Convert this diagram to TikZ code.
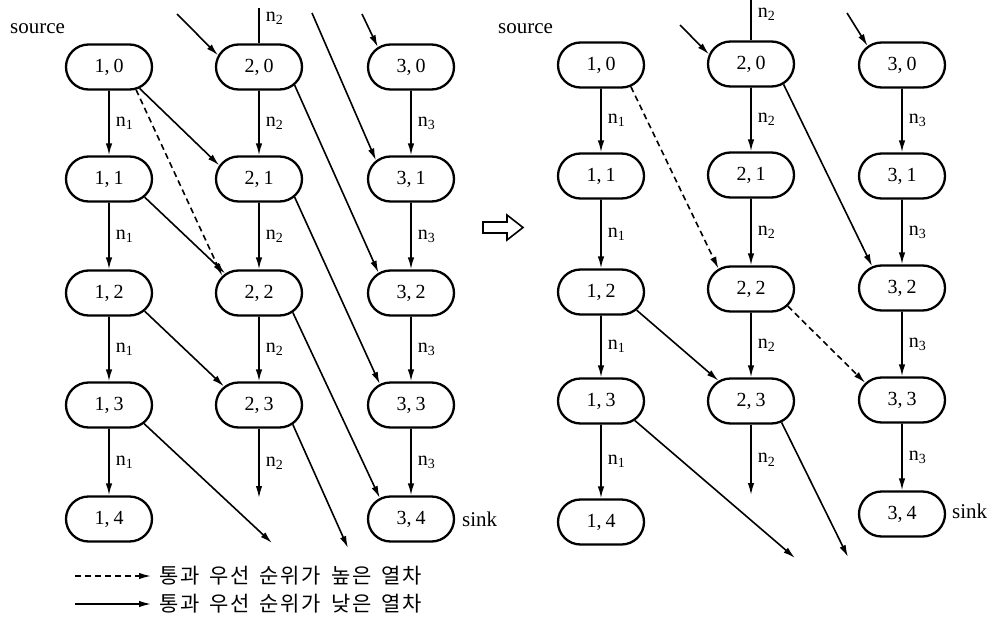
\documentclass[tikz,border=0pt]{standalone}
\usepackage{fontspec}
\setmainfont{Liberation Serif}
\newfontfamily\krfont[LetterSpace=8]{Noto Sans CJK KR}
\usetikzlibrary{shapes.misc,arrows.meta}

\newcommand\nsub[1]{n\textsubscript{#1}}
\newcommand\pairlabel[2]{#1,\kern4pt#2}
\newcommand\legendfont{\krfont\fontsize{21}{24}\selectfont\spaceskip 10pt\relax}

\tikzset{
  state/.style={rounded rectangle, draw, line width=2.3pt,
    minimum width=86pt, minimum height=45pt, inner sep=0pt,
    font=\fontsize{20}{24}\selectfont},
  flow/.style={line width=1.6pt, -{Latex[length=12pt,width=6.5pt]}},
  prio/.style={flow, dash pattern=on 6pt off 4pt},
  plain/.style={line width=1.6pt},
  lab/.style={font=\fontsize{20}{24}\selectfont, right, inner sep=0pt, xshift=6pt},
  tag/.style={font=\fontsize{21}{24}\selectfont, inner sep=0pt, anchor=base west},
  legend/.style={font=\legendfont, inner sep=0pt, anchor=west},
}

\begin{document}
\begin{tikzpicture}[x=1pt,y=-1pt]
\useasboundingbox (0,0) rectangle (996,621);

% ---------------- before: left network ----------------
\node[tag] (Lsrc) at (10,33) {source};

\node[state] (L10) at (109,67)  {\pairlabel10};
\node[state] (L11) at (109,179) {\pairlabel11};
\node[state] (L12) at (109,293) {\pairlabel12};
\node[state] (L13) at (109,405) {\pairlabel13};
\node[state] (L14) at (109,519) {\pairlabel14};

\node[state] (L20) at (259,67)  {\pairlabel20};
\node[state] (L21) at (259,179) {\pairlabel21};
\node[state] (L22) at (259,293) {\pairlabel22};
\node[state] (L23) at (259,405) {\pairlabel23};

\node[state] (L30) at (411,67)  {\pairlabel30};
\node[state] (L31) at (411,179) {\pairlabel31};
\node[state] (L32) at (411,293) {\pairlabel32};
\node[state] (L33) at (411,405) {\pairlabel33};
\node[state] (L34) at (411,519) {\pairlabel34};

\node[tag] (Lsink) at (462,526) {sink};

\coordinate (Ltop)  at (259,8);
\coordinate (Lin2)  at (177,14);
\coordinate (Lin3)  at (362,14);
\coordinate (Lin31) at (312,13);
\coordinate (Ldown) at (259,498);
\coordinate (Lend1) at (272,543);
\coordinate (Lend2) at (348,548);

% column chains
\draw[flow] (L10) -- node[lab]{\nsub1} (L11);
\draw[flow] (L11) -- node[lab]{\nsub1} (L12);
\draw[flow] (L12) -- node[lab]{\nsub1} (L13);
\draw[flow] (L13) -- node[lab]{\nsub1} (L14);

\draw[plain] (Ltop) -- node[lab,pos=0.3]{\nsub2} (L20);
\draw[flow] (L20) -- node[lab]{\nsub2} (L21);
\draw[flow] (L21) -- node[lab]{\nsub2} (L22);
\draw[flow] (L22) -- node[lab]{\nsub2} (L23);
\draw[flow] (L23) -- node[lab]{\nsub2} (Ldown);

\draw[flow] (L30) -- node[lab]{\nsub3} (L31);
\draw[flow] (L31) -- node[lab]{\nsub3} (L32);
\draw[flow] (L32) -- node[lab]{\nsub3} (L33);
\draw[flow] (L33) -- node[lab]{\nsub3} (L34);

% crossing trains
\draw[flow] (Lin2) -- (L20.164);
\draw[flow] (Lin3) -- (L30.149);
\draw[flow] (Lin31) -- (L31.152);
\draw[flow] (L10.-35) -- (L21.161);
\draw[prio] (L10.-40) -- (L22.155);
\draw[flow] (L11.-27) -- (L22.150);
\draw[flow] (L12.-27) -- (L23.152);
\draw[flow] (L13.-28) -- (Lend1);
\draw[flow] (L20.-27) -- (L32.148);
\draw[flow] (L21.-27) -- (L33.146);
\draw[flow] (L22.-30) -- (L34.146);
\draw[flow] (L23.-30) -- (Lend2);

% ---------------- transformation arrow ----------------
\draw[line width=1.6pt, line join=miter]
  (483,222) -- (507,222) -- (507,215) -- (523,227.5) -- (507,240)
  -- (507,233) -- (483,233) -- cycle;

% ---------------- after: right network ----------------
\node[tag] (Rsrc) at (498,33) {source};

\node[state] (R10) at (601,65)  {\pairlabel10};
\node[state] (R11) at (601,176) {\pairlabel11};
\node[state] (R12) at (601,292) {\pairlabel12};
\node[state] (R13) at (601,401) {\pairlabel13};
\node[state] (R14) at (601,522) {\pairlabel14};

\node[state] (R20) at (751,64)  {\pairlabel20};
\node[state] (R21) at (751,175) {\pairlabel21};
\node[state] (R22) at (751,289) {\pairlabel22};
\node[state] (R23) at (751,401) {\pairlabel23};

\node[state] (R30) at (902,65)  {\pairlabel30};
\node[state] (R31) at (902,176) {\pairlabel31};
\node[state] (R32) at (902,288) {\pairlabel32};
\node[state] (R33) at (902,400) {\pairlabel33};
\node[state] (R34) at (902,514) {\pairlabel34};

\node[tag] (Rsink) at (952,518) {sink};

\coordinate (Rtop)  at (751,0);
\coordinate (Rin2)  at (680,25);
\coordinate (Rin3)  at (847,13);
\coordinate (Rdown) at (751,495);
\coordinate (Rend1) at (795,558);
\coordinate (Rend2) at (848,557);

\draw[flow] (R10) -- node[lab]{\nsub1} (R11);
\draw[flow] (R11) -- node[lab]{\nsub1} (R12);
\draw[flow] (R12) -- node[lab]{\nsub1} (R13);
\draw[flow] (R13) -- node[lab]{\nsub1} (R14);

\draw[plain] (Rtop) -- node[lab,pos=0.35]{\nsub2} (R20);
\draw[flow] (R20) -- node[lab]{\nsub2} (R21);
\draw[flow] (R21) -- node[lab]{\nsub2} (R22);
\draw[flow] (R22) -- node[lab]{\nsub2} (R23);
\draw[flow] (R23) -- node[lab]{\nsub2} (Rdown);

\draw[flow] (R30) -- node[lab]{\nsub3} (R31);
\draw[flow] (R31) -- node[lab]{\nsub3} (R32);
\draw[flow] (R32) -- node[lab]{\nsub3} (R33);
\draw[flow] (R33) -- node[lab]{\nsub3} (R34);

\draw[flow] (Rin2) -- (R20.167);
\draw[flow] (Rin3) -- (R30.151);
\draw[prio] (R10.-36) -- (R22.148);
\draw[flow] (R20.-32) -- (R32.144);
\draw[flow] (R12.-27) -- (R23.148);
\draw[prio] (R22.-25) -- (R33.155);
\draw[flow] (R13.-30) -- (Rend1);
\draw[flow] (R23.-35) -- (Rend2);

% ---------------- legend ----------------
\node[legend] (lt1) at (159,576) {통과 우선 순위가 높은 열차};
\node[legend] (lt2) at (159,604) {통과 우선 순위가 낮은 열차};
\coordinate (lg1) at (75,576);
\coordinate (lg2) at (75,604);
\draw[prio] (lg1) -- ([xshift=-8pt]lt1.west);
\draw[flow] (lg2) -- ([xshift=-8pt]lt2.west);
\end{tikzpicture}
\end{document}
